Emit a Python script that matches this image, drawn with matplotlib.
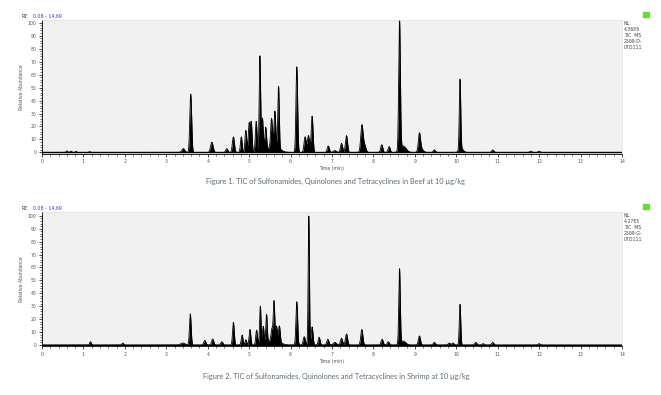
import matplotlib
matplotlib.use('Agg')
import matplotlib.pyplot as plt
import numpy as np

# Peak tables (retention time in min, relative abundance %, peak width sigma in min)
beef_rt = [0.60, 0.70, 0.82, 1.15, 3.41, 3.59, 4.10, 4.46, 4.62, 4.81, 4.92, 5.00, 5.05, 5.17, 5.26, 5.32,
           5.40, 5.54, 5.62, 5.71, 5.60, 6.15, 6.35, 6.43, 6.52, 6.91, 7.07, 7.23, 7.35, 7.72, 7.78, 8.20, 8.38,
           8.63, 8.72, 9.11, 9.15, 9.47, 10.09, 10.12, 10.88, 11.80, 12.00]
beef_height = [1.2, 1.0, 0.8, 0.6, 3.0, 45, 8, 3, 12, 12, 17, 22, 23, 24, 74, 26,
               18, 21, 26, 47, 6, 66, 12, 13, 28, 5, 1.5, 7, 13, 20, 6, 6, 4.5,
               100, 5, 13, 3, 2, 54, 3, 2, 1, 1]
beef_width = [0.02, 0.02, 0.02, 0.02, 0.035, 0.022, 0.03, 0.025, 0.025, 0.02, 0.02, 0.02, 0.02, 0.02, 0.017, 0.02,
              0.02, 0.02, 0.02, 0.017, 0.12, 0.02, 0.025, 0.025, 0.022, 0.025, 0.035, 0.025, 0.025, 0.027, 0.035, 0.025, 0.025,
              0.02, 0.07, 0.025, 0.05, 0.025, 0.017, 0.05, 0.025, 0.025, 0.025]

shrimp_rt = [1.17, 1.95, 3.40, 3.58, 3.93, 4.12, 4.34, 4.62, 4.83, 4.92, 5.02, 5.18, 5.27, 5.34, 5.42, 5.55,
             5.60, 5.66, 5.73, 5.60, 6.15, 6.33, 6.44, 6.52, 6.69, 6.90, 7.07, 7.23, 7.35, 7.72, 8.21, 8.36, 8.63,
             8.72, 9.11, 9.47, 9.83, 9.92, 10.09, 10.47, 10.65, 10.88, 12.00]
shrimp_height = [2.5, 1.5, 1.5, 24, 3.5, 4.6, 2.5, 17.5, 7.7, 4, 12, 11.5, 30, 14, 22, 8,
                 29, 10, 12, 5, 33.5, 6.4, 100, 14, 6, 4.4, 2, 5.2, 8.5, 12, 4.4, 2.5, 58,
                 3, 7, 2, 1.5, 1.5, 31.5, 2, 1, 2, 1]
shrimp_width = [0.02, 0.02, 0.05, 0.02, 0.025, 0.025, 0.025, 0.02, 0.02, 0.02, 0.02, 0.02, 0.017, 0.02, 0.017, 0.02,
                0.017, 0.02, 0.02, 0.12, 0.02, 0.025, 0.015, 0.022, 0.022, 0.025, 0.035, 0.025, 0.025, 0.025, 0.025, 0.025, 0.018,
                0.06, 0.025, 0.025, 0.025, 0.025, 0.017, 0.025, 0.025, 0.025, 0.025]

captions = ['Figure 1. TIC of Sulfonamides, Quinolones and Tetracyclines in Beef at 10 \u00b5g/kg',
            'Figure 2. TIC of Sulfonamides, Quinolones and Tetracyclines in Shrimp at 10 \u00b5g/kg']
nl_texts = ['NL:\n4.36E6\nTIC  MS\n2509-D-\n07D111', 'NL:\n4.27E5\nTIC  MS\n2509-G-\n07D111']

W, H = 661, 395
fig = plt.figure(figsize=(W / 100, H / 100), dpi=100)

t = np.linspace(0, 14, 6000)


def trace(rts, heights, widths):
    y = np.zeros_like(t)
    for r, h, w in zip(rts, heights, widths):
        y += h * np.exp(-0.5 * ((t - r) / w) ** 2)
    return y


panels = [
    # (axes top px, axes bottom px, ylim top, peaks, caption y px)
    (20, 153.5, 102.0, (beef_rt, beef_height, beef_width), 181),
    (212, 346, 102.9, (shrimp_rt, shrimp_height, shrimp_width), 376),
]

for i, (top, bot, ytop, peaks, cap_y) in enumerate(panels):
    ax = fig.add_axes([42 / W, 1 - bot / H, 580 / W, (bot - top) / H])
    ax.set_facecolor('#f1f1f1')
    y = trace(*peaks)
    ax.fill_between(t, 0, y, color='black', lw=0)
    ax.plot(t, y, color='black', lw=0.6)
    ax.axhline(0, color='black', lw=1.0)
    ax.set_xlim(0, 14)
    ax.set_ylim(-0.8, ytop)
    ax.set_xticks(np.arange(0, 15, 1))
    ax.set_xticks(np.arange(0, 14.01, 0.2), minor=True)
    ax.set_yticks(np.arange(0, 101, 10))
    ax.set_yticks(np.arange(0, 101, 2), minor=True)
    ax.tick_params(axis='both', which='major', labelsize=3.3, labelcolor='#555555',
                   length=2.5, width=0.5, pad=1.5)
    ax.tick_params(axis='both', which='minor', length=1.3, width=0.4)
    for s in ['top', 'right']:
        ax.spines[s].set_color('#e0e0e0')
        ax.spines[s].set_linewidth(0.5)
    for s in ['left', 'bottom']:
        ax.spines[s].set_linewidth(0.6)
    ax.set_ylabel('Relative Abundance', fontsize=3.3, color='#555555', labelpad=3)
    ax.set_xlabel('Time (min)', fontsize=3.3, color='#555555', labelpad=1.5)

    # RT range header
    fig.text(22 / W, 1 - (top - 4) / H, 'RT:', fontsize=3.4, color='#333333', va='center')
    fig.text(33 / W, 1 - (top - 4) / H, '0.08 - 14.69', fontsize=3.4, color='#3a3ad0', va='center')
    # NL box on the right
    fig.text(624 / W, 1 - (top + 1) / H, nl_texts[i], fontsize=3.3, color='#444444',
             va='top', ha='left', linespacing=1.25)
    # small green marker
    fig.patches.append(plt.Rectangle((643 / W, 1 - (top - 3) / H), 6 / W, 5 / H,
                                     transform=fig.transFigure, color='#66dd33'))
    fig.text(336 / W, 1 - cap_y / H, captions[i], fontsize=5.3, color='#5b6b7a',
             ha='center', va='center', family='Lato')

fig.savefig('out.png', dpi=100, facecolor='white')
